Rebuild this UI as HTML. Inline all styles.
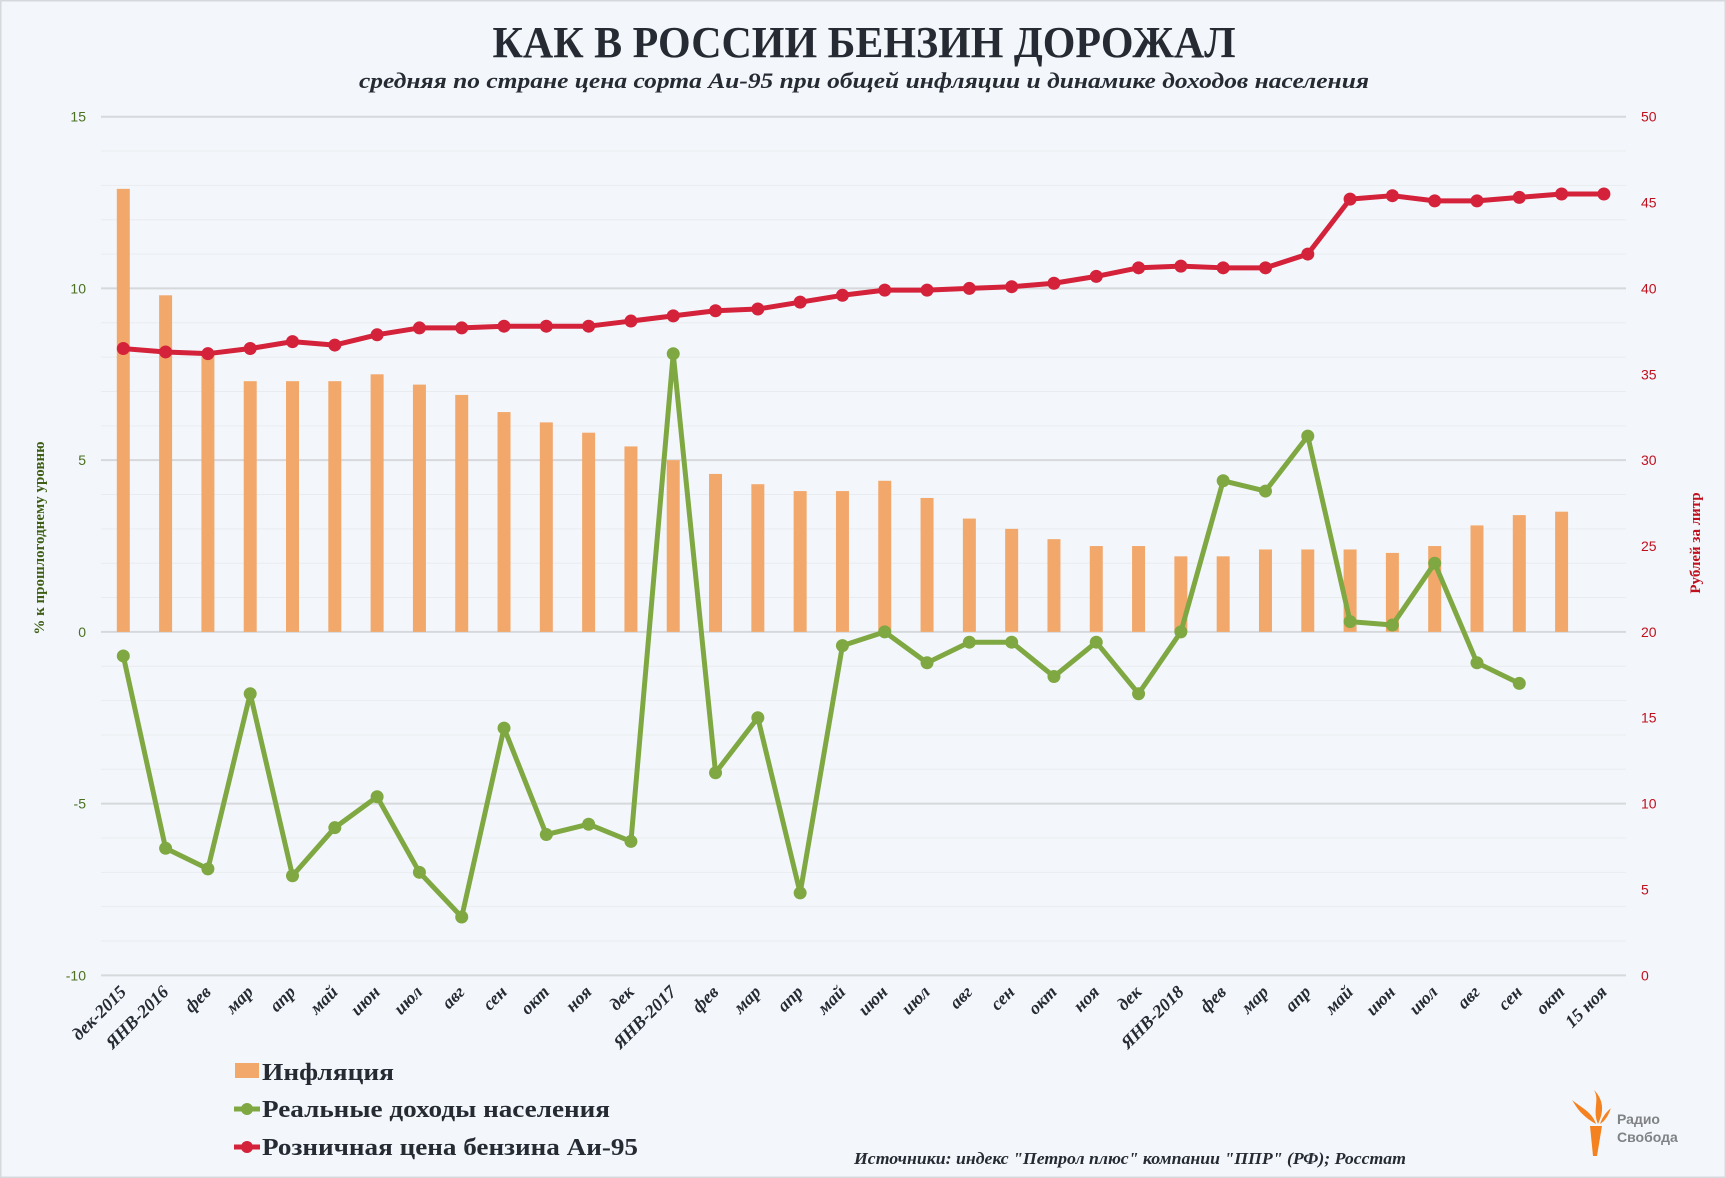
<!DOCTYPE html>
<html><head><meta charset="utf-8"><style>
html,body{margin:0;padding:0;background:#f3f7fb}
svg{display:block}
</style></head><body>
<svg id="chart" width="1726" height="1178" viewBox="0 0 1726 1178" xmlns="http://www.w3.org/2000/svg">
<rect x="0" y="0" width="1726" height="1178" fill="#f3f7fb" stroke="#d6d9dc" stroke-width="3"/>
<text x="864" y="57" text-anchor="middle" font-family="Liberation Serif, serif" font-weight="bold" font-size="44" fill="#252a33" textLength="743" lengthAdjust="spacingAndGlyphs">КАК В РОССИИ БЕНЗИН ДОРОЖАЛ</text>
<text x="864" y="88" text-anchor="middle" font-family="Liberation Serif, serif" font-weight="bold" font-style="italic" font-size="22" fill="#252a33" textLength="1010" lengthAdjust="spacingAndGlyphs">средняя по стране цена сорта Аи-95 при общей инфляции и динамике доходов населения</text>
<g id="grid"></g><g id="bars"></g><g id="lines"></g><g id="axes"></g>
<text transform="translate(44,538) rotate(-90)" text-anchor="middle" font-family="Liberation Serif, serif" font-weight="bold" font-size="15" fill="#3f5f16">% к прошлогоднему уровню</text>
<text transform="translate(1700,543) rotate(-90)" text-anchor="middle" font-family="Liberation Serif, serif" font-weight="bold" font-size="15" fill="#c0101e">Рублей за литр</text>
<g font-family="Liberation Serif, serif" font-weight="bold" font-size="24" fill="#252a33">
<g><rect x="235" y="1063" width="24" height="15" fill="#f2a86b"/><text x="262" y="1080" textLength="132" lengthAdjust="spacingAndGlyphs">Инфляция</text></g>
<g><line x1="234" y1="1109" x2="260" y2="1109" stroke="#7fa843" stroke-width="5"/><circle cx="247" cy="1109" r="6" fill="#7fa843"/><text x="262" y="1117" textLength="348" lengthAdjust="spacingAndGlyphs">Реальные доходы населения</text></g>
<g><line x1="234" y1="1147" x2="260" y2="1147" stroke="#d3223a" stroke-width="5"/><circle cx="247" cy="1147" r="6" fill="#d3223a"/><text x="262" y="1155" textLength="376" lengthAdjust="spacingAndGlyphs">Розничная цена бензина Аи-95</text></g>
</g>
<text x="854" y="1164" font-family="Liberation Serif, serif" font-weight="bold" font-style="italic" font-size="17" fill="#252a33" textLength="552" lengthAdjust="spacingAndGlyphs">Источники: индекс "Петрол плюс" компании "ППР" (РФ); Росстат</text>
<g>
<path d="M1590 1126 L1602 1126 L1597 1156 L1593 1156 Z" fill="#f58220"/>
<path d="M1596 1124 C1580 1115 1576 1106 1572 1100 C1582 1108 1592 1112 1596 1124 Z" fill="#f58220"/>
<path d="M1598 1124 C1592 1110 1600 1100 1594 1090 C1604 1100 1604 1112 1598 1124 Z" fill="#f58220"/>
<path d="M1600 1124 C1604 1112 1612 1108 1611 1108 C1608 1116 1606 1120 1600 1124 Z" fill="#f58220"/>
<text x="1617" y="1124" font-family="Liberation Sans, sans-serif" font-weight="bold" font-size="14" fill="#808285">Радио</text>
<text x="1617" y="1142" font-family="Liberation Sans, sans-serif" font-weight="bold" font-size="14" fill="#808285">Свобода</text>
</g>
</svg>
<script>
const categories = ["дек-2015","ЯНВ-2016","фев","мар","апр","май","июн","июл","авг","сен","окт","ноя","дек","ЯНВ-2017","фев","мар","апр","май","июн","июл","авг","сен","окт","ноя","дек","ЯНВ-2018","фев","мар","апр","май","июн","июл","авг","сен","окт","15 ноя"];
const inflation = [12.9,9.8,8.1,7.3,7.3,7.3,7.5,7.2,6.9,6.4,6.1,5.8,5.4,5.0,4.6,4.3,4.1,4.1,4.4,3.9,3.3,3.0,2.7,2.5,2.5,2.2,2.2,2.4,2.4,2.4,2.3,2.5,3.1,3.4,3.5,null];
const income = [-0.7,-6.3,-6.9,-1.8,-7.1,-5.7,-4.8,-7.0,-8.3,-2.8,-5.9,-5.6,-6.1,8.1,-4.1,-2.5,-7.6,-0.4,0.0,-0.9,-0.3,-0.3,-1.3,-0.3,-1.8,0.0,4.4,4.1,5.7,0.3,0.2,2.0,-0.9,-1.5,null,null];
const price = [36.5,36.3,36.2,36.5,36.9,36.7,37.3,37.7,37.7,37.8,37.8,37.8,38.1,38.4,38.7,38.8,39.2,39.6,39.9,39.9,40.0,40.1,40.3,40.7,41.2,41.3,41.2,41.2,42.0,45.2,45.4,45.1,45.1,45.3,45.5,45.5];
const leftTicks = [15,10,5,0,-5,-10];
const rightTicks = [50,45,40,35,30,25,20,15,10,5,0];

const NS="http://www.w3.org/2000/svg";
const X0=123.3, DX=(1603.9-123.3)/35;
const xAt=i=>X0+i*DX;
const yL=v=>631.9-(v)*(515.2/15);
const yR=v=>975.3-(v)*(858.6/50);
function mk(tag,attrs,parent){const e=document.createElementNS(NS,tag);for(const k in attrs)e.setAttribute(k,attrs[k]);parent.appendChild(e);return e;}
const grid=document.getElementById('grid'),bars=document.getElementById('bars'),lines=document.getElementById('lines'),axes=document.getElementById('axes');
for(let v=-10;v<=15;v++){
  const major=v%5===0;
  const l=mk('line',{x1:101,x2:1626,y1:yL(v),y2:yL(v),stroke:major?'#d6d8db':'#e9ecef','stroke-width':major?2:1},grid);
  
  
}
leftTicks.forEach(v=>{
  const t=mk('text',{x:86,y:yL(v)+5,'text-anchor':'end','font-family':'Liberation Sans, sans-serif','font-size':14,fill:'#4a7020'},axes);
  t.textContent=v;
  
  
});
rightTicks.forEach(v=>{
  const t=mk('text',{x:1641,y:yR(v)+5,'font-family':'Liberation Sans, sans-serif','font-size':14,fill:'#c0101e'},axes);
  t.textContent=v;
  
  
});
categories.forEach((c,i)=>{
  const t=mk('text',{transform:`translate(${xAt(i)+4},${993}) rotate(-45)`,'text-anchor':'end','font-family':'Liberation Serif, serif','font-weight':'bold','font-style':'italic','font-size':18,fill:'#252a33'},axes);
  t.textContent=c;
  
  
});
inflation.forEach((v,i)=>{
  if(v==null)return;
  const r=mk('rect',{x:xAt(i)-6.5,y:yL(v),width:13,height:yL(0)-yL(v),fill:'#f2a86b'},bars);
  
  
});
function series(arr,yf,color,name){
  const pts=[];arr.forEach((v,i)=>{if(v!=null)pts.push([xAt(i),yf(v)]);});
  const p=mk('polyline',{points:pts.map(p=>p.join(',')).join(' '),fill:'none',stroke:color,'stroke-width':5,'stroke-linejoin':'round'},lines);
  
  
  pts.forEach(q=>{
    const c=mk('circle',{cx:q[0],cy:q[1],r:6.5,fill:color},lines);
    
    
  });
}
series(income,yL,'#7fa843','income');
series(price,yR,'#d3223a','price');
</script>
</body></html>
